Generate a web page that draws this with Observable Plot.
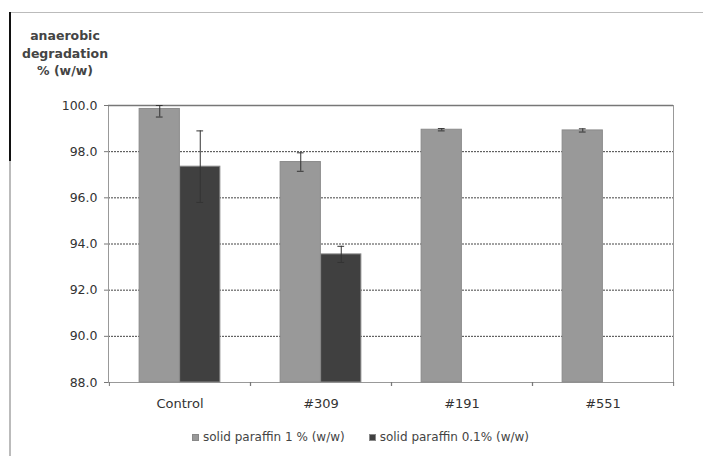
<!DOCTYPE html>
<html>
<head>
<meta charset="utf-8">
<script src="https://cdn.jsdelivr.net/npm/d3@7"></script>
<script src="https://cdn.jsdelivr.net/npm/@observablehq/plot@0.6"></script>
<style>
  html, body { margin: 0; padding: 0; background: #fff; }
  #wrap { position: relative; width: 703px; height: 456px; overflow: hidden; font-family: "DejaVu Sans", sans-serif; color: #222; }
  #chart { position: absolute; left: 0; top: 0; }
  .deco { position: absolute; }
  #ylabel { position: absolute; left: 0; top: 27px; width: 130px; text-align: center; font-weight: bold; font-size: 12.5px; line-height: 17.5px; color: #444; }
  #legend { position: absolute; left: 192px; top: 430px; display: flex; align-items: center; font-size: 12px; color: #444; white-space: nowrap; }
  .item { display: flex; align-items: center; }
  .sw { width: 5px; height: 5px; margin-right: 4px; border: 1px solid #888; }
</style>
</head>
<body>
<div id="wrap">
  <div class="deco" style="left:10px; top:12px; width:693px; height:1px; background:#bbb;"></div>
  <div class="deco" style="left:9px; top:12px; width:2px; height:444px; background:#bbb;"></div>
  <div class="deco" style="left:9px; top:12px; width:2px; height:149px; background:#111;"></div>
  <div id="chart"></div>
  <div id="ylabel">anaerobic<br>degradation<br>% (w/w)</div>
  <div id="legend"></div>
</div>
<script>
// ---- data ----
const categories = ["Control", "#309", "#191", "#551"];
const seriesNames = ["solid paraffin 1 % (w/w)", "solid paraffin 0.1% (w/w)"];
const paraffin1 = [99.85, 97.55, 98.95, 98.92];
const paraffin1Err = [0.35, 0.40, 0.05, 0.07];
const paraffin01 = [97.35, 93.55, null, null];
const paraffin01Err = [1.55, 0.35, null, null];
const yTicks = [88, 90, 92, 94, 96, 98, 100];
const gridTicks = [90, 92, 94, 96, 98];
const seriesColors = ["#999999", "#404040"];

// ---- layout ----
const W = 703, H = 425, mL = 108, mR = 30, mT = 105, mB = 43;
const bw = (W - mL - mR) / categories.length;
const barW = 40.5;
const barInset = (bw - barW) / 2;
const capW = 7;
const capInset = (bw - capW) / 2;

const rows1 = categories.map((c, i) => ({cat: c, v: paraffin1[i], e: paraffin1Err[i]})).filter(d => d.v != null);
const rows2 = categories.map((c, i) => ({cat: c, v: paraffin01[i], e: paraffin01Err[i]})).filter(d => d.v != null);

function seriesMarks(rows, dx, fill) {
  return [
    Plot.barY(rows, {x: "cat", y1: 88, y2: "v", dx, insetLeft: barInset, insetRight: barInset, fill, stroke: "#8a8a8a", strokeWidth: 1}),
    Plot.ruleX(rows, {x: "cat", y1: d => d.v - d.e, y2: d => d.v + d.e, dx, stroke: "#333", strokeWidth: 1}),
    Plot.tickY(rows, {x: "cat", y: d => d.v + d.e, dx, insetLeft: capInset, insetRight: capInset, stroke: "#333", strokeWidth: 1}),
    Plot.tickY(rows, {x: "cat", y: d => d.v - d.e, dx, insetLeft: capInset, insetRight: capInset, stroke: "#333", strokeWidth: 1})
  ];
}

const chart = Plot.plot({
  width: W,
  height: H,
  marginLeft: mL,
  marginRight: mR,
  marginTop: mT,
  marginBottom: mB,
  style: {fontFamily: "DejaVu Sans, sans-serif", fontSize: "12.5px", color: "#333", background: "transparent"},
  x: {domain: categories, padding: 0, label: null},
  y: {domain: [88, 100], clamp: true, label: null},
  marks: [
    Plot.ruleY(gridTicks, {y: d => d, stroke: "#444", strokeWidth: 1, strokeDasharray: "2,1"}),
    Plot.frame({stroke: "#999"}),
    Plot.ruleY([100], {y: d => d, stroke: "#777", strokeWidth: 1.5}),
    ...seriesMarks(rows1, -barW / 2, seriesColors[0]),
    ...seriesMarks(rows2, barW / 2, seriesColors[1]),
    Plot.axisY(yTicks, {tickSize: 4, tickPadding: 7, tickFormat: d => d.toFixed(1), fontSize: 12.5, stroke: "#777", label: null}),
    Plot.axisX({tickSize: 0, tickPadding: 16, fontSize: 13, label: null}),
    Plot.axisX({tickSize: 4, tickFormat: () => "", dx: -bw / 2, stroke: "#777", label: null}),
    Plot.axisX({tickSize: 4, tickFormat: () => "", dx: bw / 2, stroke: "#777", label: null})
  ]
});
document.getElementById("chart").appendChild(chart);

// ---- legend ----
const legend = document.getElementById("legend");
seriesNames.forEach((name, i) => {
  const item = document.createElement("div");
  item.className = "item";
  item.style.marginRight = i === 0 ? "24px" : "0";
  const sw = document.createElement("span");
  sw.className = "sw";
  sw.style.background = seriesColors[i];
  const t = document.createElement("span");
  t.textContent = name;
  item.appendChild(sw);
  item.appendChild(t);
  legend.appendChild(item);
});
</script>
</body>
</html>
